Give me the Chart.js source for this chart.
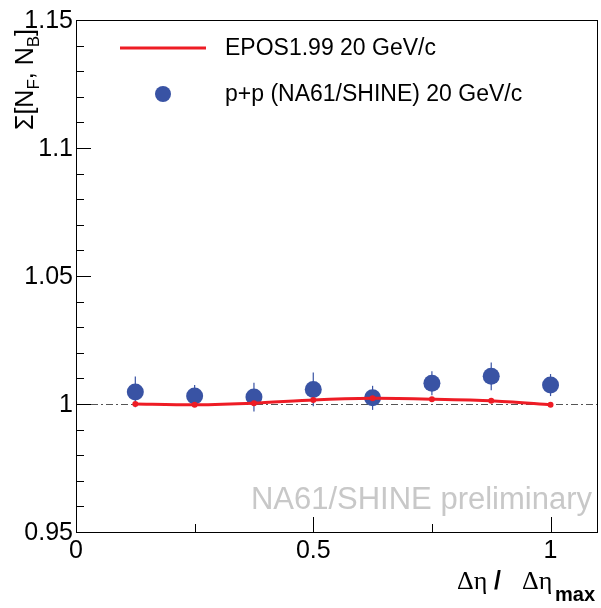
<!DOCTYPE html>
<html>
<head>
<meta charset="utf-8">
<script src="https://cdn.jsdelivr.net/npm/chart.js@4.4.1/dist/chart.umd.min.js"></script>
<style>
  html, body { margin: 0; padding: 0; background: #fff; }
  #wrap { width: 601px; height: 608px; }
</style>
</head>
<body>
<div id="wrap"><canvas id="chart-fb" width="601" height="608"></canvas></div>
<script>
// data
const xValues = [0.125, 0.25, 0.375, 0.5, 0.625, 0.75, 0.875, 1.0];
const naValues = [1.0047, 1.0031, 1.0027, 1.0057, 1.0024, 1.0081, 1.0108, 1.0074];
const naErrors = [0.0060, 0.0043, 0.0056, 0.0066, 0.0047, 0.0047, 0.0054, 0.0043];
const eposValues = [1.0000, 0.9997, 1.0003, 1.0016, 1.0022, 1.0019, 1.0013, 0.9997];
const xTicks = [0, 0.5, 1];
const xTickLabels = ["0", "0.5", "1"];
const yTicks = [0.95, 1, 1.05, 1.1, 1.15];
const yTickLabels = ["0.95", "1", "1.05", "1.1", "1.15"];

const RED = "#ee1c25";
const BLUE = "#3953a4";
const SANS = "'Liberation Sans', Arial, sans-serif";

const toPoints = (ys) => xValues.map((x, i) => ({ x: x, y: ys[i] }));

// ROOT style frame, inward ticks, labels, titles, legend
const rootStyle = {
    id: "rootStyle",
    beforeDatasetsDraw(chart) {
        const ctx = chart.ctx;
        const xs = chart.scales.x, ys = chart.scales.y;
        const a = chart.chartArea;
        ctx.save();
        // dash-dot reference at 1
        const y1 = Math.round(ys.getPixelForValue(1)) + 0.5;
        ctx.strokeStyle = "#555";
        ctx.lineWidth = 1;
        ctx.setLineDash([7, 3, 2, 3]);
        ctx.beginPath();
        ctx.moveTo(a.left, y1);
        ctx.lineTo(a.right, y1);
        ctx.stroke();
        ctx.setLineDash([]);
        // error bars
        ctx.strokeStyle = BLUE;
        ctx.lineWidth = 1.2;
        xValues.forEach((x, i) => {
            const px = xs.getPixelForValue(x);
            ctx.beginPath();
            ctx.moveTo(px, ys.getPixelForValue(naValues[i] - naErrors[i]));
            ctx.lineTo(px, ys.getPixelForValue(naValues[i] + naErrors[i]));
            ctx.stroke();
        });
        ctx.restore();
    },
    afterDraw(chart) {
        const ctx = chart.ctx;
        const xs = chart.scales.x, ys = chart.scales.y;
        const a = chart.chartArea;
        ctx.save();

        // preliminary mark
        ctx.fillStyle = "#c8c8c8";
        ctx.font = "31px " + SANS;
        ctx.textAlign = "right";
        ctx.textBaseline = "alphabetic";
        ctx.fillText("NA61/SHINE preliminary", 592, 509);

        // frame
        ctx.strokeStyle = "#000";
        ctx.lineWidth = 1;
        ctx.strokeRect(Math.round(a.left) + 0.5, Math.round(a.top) + 0.5,
            Math.round(a.right - a.left) - 1, Math.round(a.bottom - a.top));

        // y ticks (major + 4 minor)
        ctx.beginPath();
        for (let k = 0; k <= 20; k++) {
            const v = 0.95 + k * 0.01;
            const py = Math.round(ys.getPixelForValue(v)) + 0.5;
            const len = (k % 5 === 0) ? 15 : 8;
            ctx.moveTo(a.left, py);
            ctx.lineTo(a.left + len, py);
        }
        // x ticks (major + minor every 0.25)
        for (let k = 0; k <= 4; k++) {
            const v = k * 0.25;
            const px = Math.round(xs.getPixelForValue(v)) + 0.5;
            const len = (k % 2 === 0) ? 15 : 8;
            ctx.moveTo(px, a.bottom);
            ctx.lineTo(px, a.bottom - len);
        }
        ctx.stroke();

        // tick labels
        ctx.fillStyle = "#000";
        ctx.font = "25px " + SANS;
        ctx.textAlign = "right";
        ctx.textBaseline = "middle";
        yTicks.forEach((v, i) => {
            ctx.fillText(yTickLabels[i], a.left - 3, ys.getPixelForValue(v) + 1);
        });
        ctx.textAlign = "center";
        ctx.textBaseline = "top";
        xTicks.forEach((v, i) => {
            ctx.fillText(xTickLabels[i], xs.getPixelForValue(v), a.bottom + 7);
        });

        // x title: Δη / Δη_max
        ctx.textBaseline = "alphabetic";
        ctx.textAlign = "left";
        ctx.font = "26px 'Liberation Serif', serif";
        ctx.fillText("\u0394\u03b7", 457, 589);
        ctx.fillText("\u0394\u03b7", 522, 589);
        ctx.font = "bold 25px " + SANS;
        ctx.fillText("/", 494, 589);
        ctx.font = "bold 20px " + SANS;
        ctx.fillText("max", 555, 601);

        // y title: Σ[N_F, N_B] rotated
        const yparts = [
            { t: "\u03a3[N", f: "25px " + SANS, dy: 0 },
            { t: "F", f: "17px " + SANS, dy: 6 },
            { t: ", N", f: "25px " + SANS, dy: 0 },
            { t: "B", f: "17px " + SANS, dy: 6 },
            { t: "]", f: "25px " + SANS, dy: 0 }
        ];
        let ylen = 0;
        yparts.forEach(p => { ctx.font = p.f; ylen += ctx.measureText(p.t).width; });
        ctx.translate(33, 29 + ylen);
        ctx.rotate(-Math.PI / 2);
        let tx = 0;
        yparts.forEach(p => {
            ctx.font = p.f;
            ctx.fillText(p.t, tx, p.dy);
            tx += ctx.measureText(p.t).width;
        });
        ctx.setTransform(1, 0, 0, 1, 0, 0);

        // legend
        ctx.strokeStyle = RED;
        ctx.lineWidth = 3;
        ctx.beginPath();
        ctx.moveTo(120, 48);
        ctx.lineTo(206, 48);
        ctx.stroke();
        ctx.fillStyle = BLUE;
        ctx.beginPath();
        ctx.arc(163, 94, 8, 0, Math.PI * 2);
        ctx.fill();
        ctx.fillStyle = "#000";
        ctx.font = "23px " + SANS;
        ctx.textAlign = "left";
        ctx.textBaseline = "middle";
        ctx.fillText("EPOS1.99 20 GeV/c", 225, 49);
        ctx.fillText("p+p (NA61/SHINE) 20 GeV/c", 225, 95);

        ctx.restore();
    }
};

const ctxFB = document.getElementById("chart-fb");

const dataFB = {
    datasets: [
        {
            label: "EPOS1.99 20 GeV/c",
            data: toPoints(eposValues),
            borderColor: RED,
            backgroundColor: RED,
            borderWidth: 3,
            pointRadius: 1.5,
            showLine: true,
            tension: 0.25,
            order: 0,
        },
        {
            label: "p+p (NA61/SHINE) 20 GeV/c",
            data: toPoints(naValues),
            backgroundColor: BLUE,
            borderColor: BLUE,
            borderWidth: 0,
            pointRadius: 8.5,
            showLine: false,
            order: 1,
        },
    ],
};

const configFB = {
    type: "scatter",
    data: dataFB,
    options: {
        responsive: false,
        animation: false,
        events: [],
        layout: { autoPadding: false, padding: { left: 76, top: 20, right: 3, bottom: 76 } },
        scales: {
            x: {
                type: "linear",
                display: false,
                min: 0,
                max: 1.1,
            },
            y: {
                type: "linear",
                display: false,
                min: 0.95,
                max: 1.15,
            },
        },
        plugins: {
            legend: { display: false },
            tooltip: { enabled: false },
        },
    },
    plugins: [rootStyle],
};

new Chart(ctxFB, configFB);
</script>
</body>
</html>
